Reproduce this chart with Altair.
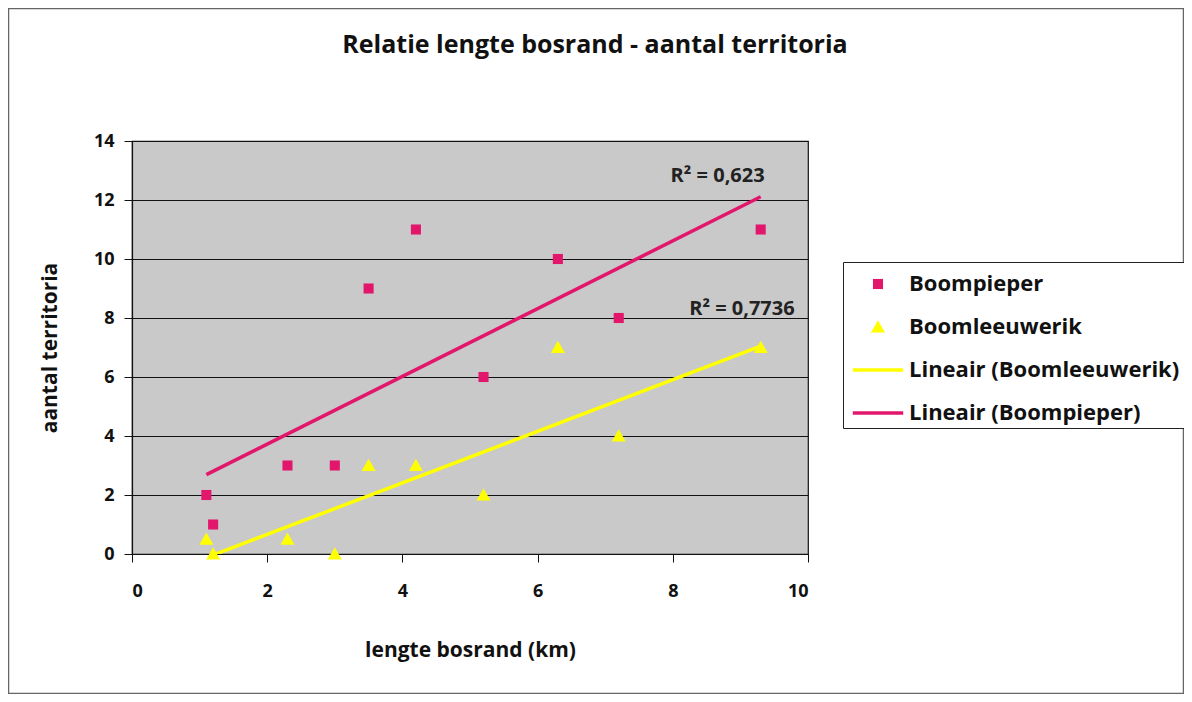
import altair as alt
import pandas as pd

# ---- data ----
lengte = [1.1, 1.2, 2.3, 3.0, 3.5, 4.2, 5.2, 6.3, 7.2, 9.3]
boompieper = [2, 1, 3, 3, 9, 11, 6, 10, 8, 11]
boomleeuwerik = [0.5, 0, 0.5, 0, 3, 3, 2, 7, 4, 7]

series_names = ["Boompieper", "Boomleeuwerik",
                "Lineair (Boomleeuwerik)", "Lineair (Boompieper)"]
r2_series = ["Boompieper", "Boomleeuwerik"]
r2_labels = ["R² = 0,623", "R² = 0,7736"]
x_ticks = [0, 2, 4, 6, 8, 10]
y_ticks = [0, 2, 4, 6, 8, 10, 12, 14]

PINK = "#e2176c"
YELLOW = "#ffff00"
FONT = "Open Sans"

rows = []
for x, a, b in zip(lengte, boompieper, boomleeuwerik):
    rows.append({"x": x, "y": a, "series": "Boompieper"})
    rows.append({"x": x, "y": b, "series": "Boomleeuwerik"})
df = pd.DataFrame(rows)
r2_df = pd.DataFrame({"series": r2_series, "label": r2_labels})

color_scale = alt.Scale(domain=series_names, range=[PINK, YELLOW, YELLOW, PINK])
shape_scale = alt.Scale(
    domain=series_names,
    range=[
        "M-0.28,-0.28H0.28V0.28H-0.28Z",
        "M0,-0.38L0.39,0.31L-0.39,0.31Z",
        "M-1.4,-0.1H1.4V0.1H-1.4Z",
        "M-1.4,-0.1H1.4V0.1H-1.4Z",
    ],
)

xenc = alt.X("x:Q", scale=alt.Scale(domain=[0, 10], nice=False),
             axis=alt.Axis(values=x_ticks, title="lengte bosrand (km)", grid=False,
                           format="d", labelPadding=20, titlePadding=39,
                           titleFontSize=21))
yenc = alt.Y("y:Q", scale=alt.Scale(domain=[0, 14], nice=False),
             axis=alt.Axis(values=y_ticks, title="aantal territoria", grid=True,
                           format="d", labelPadding=10, titlePadding=33,
                           titleFontSize=21))

legend = alt.Legend(
    title=None, orient="none", legendX=711, legendY=121,
    symbolSize=1296, symbolOffset=13, labelOffset=13,
    padding=4, rowPadding=14,
    strokeColor="#222222", fillColor="white",
    labelFont=FONT, labelFontSize=22, labelFontWeight="bold", labelColor="#111111",
    symbolStrokeWidth=0, labelLimit=400,
)

points = alt.Chart(df).mark_point(filled=True, size=1296, opacity=1, strokeWidth=0).encode(
    x=xenc, y=yenc,
    color=alt.Color("series:N", scale=color_scale, legend=legend),
    shape=alt.Shape("series:N", scale=shape_scale, legend=legend),
)

lines = alt.Chart(df).transform_regression(
    "x", "y", groupby=["series"]
).transform_calculate(
    series="'Lineair (' + datum.series + ')'"
).mark_line(strokeWidth=3.5, clip=True).encode(
    x="x:Q", y="y:Q",
    color=alt.Color("series:N", scale=color_scale, legend=legend),
)

r2_base = alt.Chart(df).transform_regression(
    "x", "y", groupby=["series"]
).transform_joinaggregate(
    xm="max(x)", groupby=["series"]
).transform_filter(
    "datum.x == datum.xm"
).transform_lookup(
    lookup="series",
    from_=alt.LookupData(data=r2_df, key="series", fields=["label"]),
)

def r2_layer(name, dx, dy):
    return r2_base.transform_filter(alt.datum.series == name).mark_text(
        align="right", baseline="middle", dx=dx, dy=dy,
        font=FONT, fontSize=20, fontWeight="bold", color="#222222",
    ).encode(x="x:Q", y="y:Q", text="label:N")

frame = alt.Chart(alt.Data(values=[{}])).mark_rect(
    fill=None, stroke="#666666", strokeWidth=1.5
).encode(
    x=alt.value(-123.5), x2=alt.value(1051.5),
    y=alt.value(-132.5), y2=alt.value(552.5),
)

chart = alt.layer(
    frame, lines, points,
    r2_layer("Boompieper", 4, -21), r2_layer("Boomleeuwerik", 34, -37)
).resolve_scale(color="shared", shape="shared").properties(
    width=676, height=413,
    autosize=alt.AutoSizeParams(type="none"),
    padding={"left": 124, "top": 133, "right": 376, "bottom": 140},
    background="white",
    title=alt.TitleParams(
        "Relatie lengte bosrand - aantal territoria",
        font=FONT, fontSize=25, fontWeight="bold", color="#111111",
        anchor="middle", dx=125, offset=0, dy=70.5, baseline="alphabetic",
    ),
).configure_view(
    fill="#c9c9c9", stroke="#111111", strokeWidth=1.2
).configure_axis(
    domainColor="#111111", domainWidth=1.2, tickColor="#111111", tickSize=8,
    gridColor="#111111", gridWidth=1, gridOpacity=1,
    labelFont=FONT, labelFontSize=18, labelFontWeight="bold", labelColor="#111111",
    titleFont=FONT, titleFontWeight="bold", titleColor="#111111",
)

chart.save("out.html", embed_options={"renderer": "svg", "actions": False})
